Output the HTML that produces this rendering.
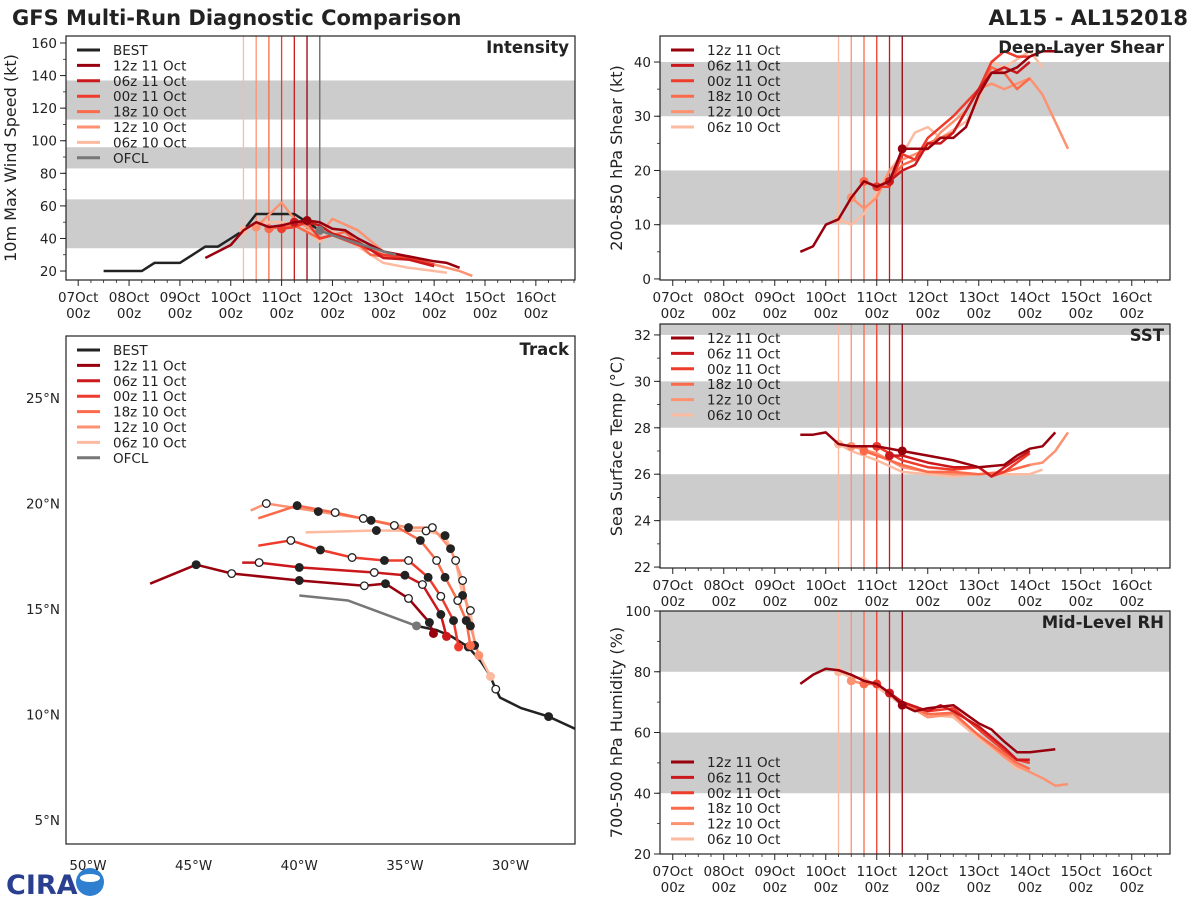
<!DOCTYPE html>
<html><head><meta charset="utf-8">
<style>
html,body{margin:0;padding:0;background:#fff;}
svg text{font-family:"DejaVu Sans","Liberation Sans",sans-serif;fill:#222;}
</style></head>
<body>
<svg id="fig" xmlns="http://www.w3.org/2000/svg" width="1200" height="900" viewBox="0 0 1200 900">
<text x="12" y="25" font-size="21" font-weight="bold">GFS Multi-Run Diagnostic Comparison</text>
<text x="1188" y="25" font-size="21" font-weight="bold" text-anchor="end">AL15 - AL152018</text>
<g>
<text x="6" y="894" font-size="27" font-weight="bold" style="fill:#2a3f8f" font-family="Liberation Serif">CIRA</text>
<circle cx="90" cy="882" r="14" fill="#2f7fd0"/>
<ellipse cx="90" cy="878" rx="10" ry="4" fill="#fff"/>
</g>
<g id="root"></g>
</svg>
<script>
// ---------- data ----------
const runNames = ["12z 11 Oct","06z 11 Oct","00z 11 Oct","18z 10 Oct","12z 10 Oct","06z 10 Oct"];
const runColors = ["#99000d","#cb181d","#ef3b2c","#fb6a4a","#fc9272","#fcbba1"];
const runInit = [4.5,4.25,4.0,3.75,3.5,3.25];
const dayLabels = ["07Oct","08Oct","09Oct","10Oct","11Oct","12Oct","13Oct","14Oct","15Oct","16Oct"];

const intBestT = [0.5,1.25,1.5,2.0,2.25,2.5,2.75,3.0,3.25,3.5,4.0,4.25,4.5,4.75];
const intBestV = [20,20,25,25,30,35,35,40,45,55,55,55,50,45];
const intOfclT = [4.75,5.0,5.5,6.0,6.25];
const intOfclV = [45,42,37,32,30];
const intRunT = [
 [2.5,3.0,3.25,3.5,3.75,4.0,4.25,4.5,4.75,5.0,5.25,5.5,5.75,6.0,6.5,7.0,7.25,7.5],
 [4.25,4.5,4.75,5.0,5.5,6.0,6.5,7.0],
 [4.0,4.25,4.5,4.75,5.0,5.5,6.0,6.5,7.0],
 [3.75,4.25,4.75,5.25,5.75,6.5,7.0],
 [3.5,4.0,4.25,4.75,5.0,5.5,6.0,7.0,7.5,7.75],
 [3.25,3.5,4.0,4.5,4.75,5.0,5.5,6.0,6.5,7.0,7.25]];
const intRunV = [
 [28,36,45,50,47,48,50,51,50,46,45,40,36,32,29,26,25,22],
 [50,50,48,43,38,28,27,23],
 [46,47,50,40,42,36,30,28,24],
 [46,48,40,44,30,27,23],
 [47,62,52,42,52,45,32,24,20,17],
 [45,50,50,45,38,45,35,25,22,20,19]];

const shrRunT = [
 [2.5,2.75,3.0,3.25,3.5,3.75,4.0,4.25,4.5,5.0,5.25,5.5,5.75,6.0,6.25,6.5,6.75,7.0,7.25,7.5],
 [4.25,4.5,4.75,5.0,5.25,5.5,6.0,6.25,6.5,6.75,7.0],
 [4.0,4.25,4.5,4.75,5.0,5.5,6.0,6.25,6.5,6.75,7.0],
 [3.75,4.0,4.25,4.5,4.75,5.0,5.5,6.0,6.25,6.5,6.75,7.0],
 [3.5,3.75,4.0,4.25,4.5,5.0,5.25,5.5,5.75,6.0,6.25,6.5,6.75,7.0,7.25,7.75],
 [3.25,3.5,3.75,4.0,4.25,4.5,4.75,5.0,5.25,5.75,6.0,6.25,6.5,7.0,7.25]];
const shrRunV = [
 [5,6,10,11,15,18,17,18,24,24,26,26,28,34,38,38,39,41,42,42],
 [18,20,21,25,25,27,35,38,39,38,40],
 [17,17,23,22,26,30,35,40,42,41,41],
 [18,17,18,21,22,25,27,35,39,38,35,37],
 [15,13,15,20,22,24,27,29,31,35,36,35,36,37,34,24],
 [11,10,12,16,20,23,27,28,26,29,33,40,39,42,39]];

const sstRunT = [
 [2.5,2.75,3.0,3.25,3.5,4.0,4.5,5.0,5.5,6.0,6.5,6.75,7.0,7.25,7.5],
 [4.25,4.5,5.0,5.5,6.0,6.25,6.5,7.0],
 [4.0,4.5,5.0,5.5,6.0,6.25,6.5,7.0],
 [3.75,4.0,4.5,5.0,5.5,6.0,6.5,7.0],
 [3.5,4.0,4.5,5.0,5.5,6.0,6.5,7.0,7.25,7.5,7.75],
 [3.25,3.5,4.0,4.5,5.0,5.5,6.0,6.5,7.0,7.25]];
const sstRunV = [
 [27.7,27.7,27.8,27.3,27.2,27.2,27.0,26.8,26.6,26.3,26.4,26.8,27.1,27.2,27.8],
 [26.8,26.8,26.5,26.3,26.3,25.9,26.3,27.0],
 [27.2,26.6,26.3,26.2,26.3,25.9,26.1,26.9],
 [27.0,26.8,26.4,26.1,26.1,26.0,26.1,26.4],
 [27.2,26.9,26.3,26.1,26.0,26.0,26.1,26.4,26.5,27.0,27.8],
 [27.3,27.0,26.6,26.1,26.0,25.9,26.0,26.0,26.0,26.2]];

const rhRunT = [
 [2.5,2.75,3.0,3.25,3.5,3.75,4.0,4.25,4.5,4.75,5.0,5.25,5.5,5.75,6.0,6.25,6.5,6.75,7.0,7.5],
 [4.25,4.5,5.0,5.25,5.5,6.0,6.5,6.75,7.0],
 [4.0,4.5,5.0,5.5,6.0,6.5,6.75,7.0],
 [3.75,4.0,4.5,5.0,5.5,6.0,6.5,6.75,7.0],
 [3.5,3.75,4.0,4.5,5.0,5.5,6.0,6.5,6.75,7.0,7.25,7.5,7.75],
 [3.25,3.5,3.75,4.0,4.5,5.0,5.5,6.0,6.5,6.75,7.0]];
const rhRunV = [
 [76,79,81,80.5,79,77,76,73,69,67,68,68.5,69,66,63,61,57,53.5,53.5,54.5],
 [73,70,67,69,67,62,55,51,51],
 [76,70,67,68,61,54,51,50],
 [76,76,70,66,66.5,59,53,50,48],
 [77,76,76,70,65,66,59,52,49,47,45,42.5,43],
 [80,78,78,75,69,66,65,58,52,48,48]];

// track: [lonW, latN]
const trkBestLon = [26.9,28.2,29.5,30.5,30.7,31.0,31.4,32.0,32.8,33.5,34.45];
const trkBestLat = [9.3,9.9,10.3,10.8,11.2,11.9,12.5,13.2,13.7,14.0,14.2];
const trkOfclLon = [34.45,37.7,40.0];
const trkOfclLat = [14.2,15.4,15.64];
const trkRunLon = [
 [33.65,33.84,34.83,35.92,36.92,40.0,43.2,44.88,47.06],
 [33.03,33.3,34.17,35.0,36.45,40.0,41.9,42.7],
 [32.46,32.7,33.3,33.9,34.83,35.97,37.5,39.0,40.4,41.94],
 [31.9,32.1,32.5,33.1,33.5,34.27,35.5,36.6,38.3,40.1,41.94],
 [31.5,31.9,32.27,32.84,33.7,34.83,36.97,39.1,41.56,42.3],
 [30.95,31.7,31.9,32.27,32.6,33.1,34.0,36.35,39.7]];
const trkRunLat = [
 [13.84,14.36,15.5,16.2,16.1,16.35,16.68,17.1,16.2],
 [13.7,14.74,16.16,16.6,16.73,16.97,17.2,17.2],
 [13.2,14.45,15.6,16.5,17.3,17.3,17.44,17.8,18.25,18.0],
 [13.27,14.45,15.4,16.5,17.3,18.25,18.96,19.2,19.57,19.9,19.3],
 [12.8,14.2,16.35,17.86,18.86,18.86,19.29,19.62,20.0,19.67],
 [11.8,13.27,14.93,15.64,17.3,18.48,18.7,18.72,18.63]];
const lonTicks = [50,45,40,35,30];
const latTicks = [25,20,15,10,5];

// ---------- helpers ----------
const NS = "http://www.w3.org/2000/svg";
const root = document.getElementById("root");
function mk(tag, attrs, parent){
  const e = document.createElementNS(NS, tag);
  for (const k in attrs) e.setAttribute(k, attrs[k]);
  (parent||root).appendChild(e);
  return e;
}
function lin(d0,d1,p0,p1){ return v => p0 + (v-d0)/(d1-d0)*(p1-p0); }
function pathD(xs, ys){ return xs.map((v,i)=>(i?"L":"M")+v.toFixed(1)+","+ys[i].toFixed(1)).join(""); }

function timePanel(cfg){
  const g = mk("g", {});
  
  
  const X = lin(cfg.xlim[0], cfg.xlim[1], cfg.x0, cfg.x1);
  const Y = lin(cfg.ylim[0], cfg.ylim[1], cfg.y1, cfg.y0);
  const clipId = cfg.name + "-clip";
  const cp = mk("clipPath", {id: clipId}, g);
  mk("rect", {x: cfg.x0, y: cfg.y0, width: cfg.x1-cfg.x0, height: cfg.y1-cfg.y0}, cp);
  // bands
  cfg.bands.forEach(b => {
    const top = Math.max(cfg.y0, Y(Math.min(b[1], cfg.ylim[1])));
    const bot = Math.min(cfg.y1, Y(b[0]));
    const r = mk("rect", {x: cfg.x0, y: top, width: cfg.x1-cfg.x0, height: bot-top, fill: "#cccccc"}, g);
    
    
  });
  // init lines
  runInit.forEach((t,i) => {
    const l = mk("line", {x1: X(t), x2: X(t), y1: cfg.y0, y2: cfg.y1, stroke: runColors[i], "stroke-width": 1.3}, g);
    
    
  });
  if (cfg.ofclT) {
    const l = mk("line", {x1: X(cfg.ofclT[0]), x2: X(cfg.ofclT[0]), y1: cfg.y0, y2: cfg.y1, stroke: "#777", "stroke-width": 1.5}, g);
    
    
  }
  const cg = mk("g", {"clip-path": "url(#"+clipId+")"}, g);
  if (cfg.bestT) {
    const p = mk("path", {d: pathD(cfg.bestT.map(X), cfg.bestV.map(Y)), stroke: "#222", "stroke-width": 2.5, fill: "none"}, cg);
    
    
  }
  for (let i = runNames.length-1; i >= 0; i--) {
    const p = mk("path", {d: pathD(cfg.runT[i].map(X), cfg.runV[i].map(Y)), stroke: runColors[i], "stroke-width": 2.5, fill: "none", "stroke-linejoin": "round"}, cg);
    
    
    const k = cfg.runT[i].indexOf(runInit[i]);
    if (k >= 0) {
      const c = mk("circle", {cx: X(runInit[i]), cy: Y(cfg.runV[i][k]), r: 4.5, fill: runColors[i]}, cg);
      
      
    }
  }
  if (cfg.ofclT) {
    const p = mk("path", {d: pathD(cfg.ofclT.map(X), cfg.ofclV.map(Y)), stroke: "#777", "stroke-width": 2.5, fill: "none"}, cg);
    
    
    const c = mk("circle", {cx: X(cfg.ofclT[0]), cy: Y(cfg.ofclV[0]), r: 4.5, fill: "#777"}, cg);
    
    
  }
  // frame
  const fr = mk("rect", {x: cfg.x0, y: cfg.y0, width: cfg.x1-cfg.x0, height: cfg.y1-cfg.y0, fill: "none", stroke: "#222", "stroke-width": 1.2}, g);
  
  
  // x ticks
  dayLabels.forEach((lab, d) => {
    const x = X(d);
    mk("line", {x1: x, x2: x, y1: cfg.y1, y2: cfg.y1+6, stroke: "#222", "stroke-width": 1}, g);
    for (let q = 1; q < 4; q++) { const xm = X(d+q*0.25); if (xm < cfg.x1) mk("line", {x1: xm, x2: xm, y1: cfg.y1, y2: cfg.y1+3, stroke: "#222", "stroke-width": 0.8}, g); }
    const t1 = mk("text", {x: x, y: cfg.y1+22, "font-size": 13.5, "text-anchor": "middle"}, g);
    t1.textContent = lab;
    
    
    const t2 = mk("text", {x: x, y: cfg.y1+38, "font-size": 13.5, "text-anchor": "middle"}, g);
    t2.textContent = "00z";
    
    
  });
  // y ticks
  for (let v = cfg.yt[0]; v <= cfg.yt[1]+1e-6; v += cfg.yt[2]) {
    const y = Y(v);
    mk("line", {x1: cfg.x0-6, x2: cfg.x0, y1: y, y2: y, stroke: "#222", "stroke-width": 1}, g);
    const t = mk("text", {x: cfg.x0-9, y: y+5, "font-size": 13.5, "text-anchor": "end"}, g);
    t.textContent = v;
    
    
  }
  for (let v = cfg.yt[0] - cfg.yt[3]*Math.floor((cfg.yt[0]-cfg.ylim[0])/cfg.yt[3]); v <= cfg.ylim[1]; v += cfg.yt[3]) {
    const y = Y(v);
    if (y >= cfg.y0 && y <= cfg.y1) mk("line", {x1: cfg.x0-3, x2: cfg.x0, y1: y, y2: y, stroke: "#222", "stroke-width": 0.8}, g);
  }
  const yl = mk("text", {x: 0, y: 0, "font-size": 16, "text-anchor": "middle", transform: "translate("+cfg.ylabX+","+((cfg.y0+cfg.y1)/2)+") rotate(-90)"}, g);
  yl.textContent = cfg.ylabel;
  
  
  const ti = mk("text", {x: cfg.x1-6, y: cfg.y0+17, "font-size": 16.5, "font-weight": "bold", "text-anchor": "end"}, g);
  ti.textContent = cfg.title;
  
  
  legend(g, cfg.x0+11, cfg.legY, cfg.bestT != null);
}

function legend(g, x, y, withBest){
  const lg = mk("g", {}, g);
  
  
  const items = [];
  if (withBest) items.push(["BEST", "#222"]);
  runNames.forEach((n,i) => items.push([n, runColors[i]]));
  if (withBest) items.push(["OFCL", "#777"]);
  items.forEach((it, k) => {
    const yy = y + k*15.4;
    const l = mk("line", {x1: x, x2: x+23, y1: yy, y2: yy, stroke: it[1], "stroke-width": 3}, lg);
    
    
    const t = mk("text", {x: x+36, y: yy+5, "font-size": 13.5}, lg);
    t.textContent = it[0];
    
    
  });
}

timePanel({name:"intensity-panel", x0:66, x1:575, y0:36, y1:280, xlim:[-0.24,9.77], ylim:[14.5,164.3],
  bands:[[34,64],[83,96],[113,137]], yt:[20,160,20,10], ylabel:"10m Max Wind Speed (kt)", ylabX:16, title:"Intensity",
  bestT:intBestT, bestV:intBestV, ofclT:intOfclT, ofclV:intOfclV, runT:intRunT, runV:intRunV, legY:50});
timePanel({name:"shear-panel", x0:660, x1:1170, y0:36, y1:280, xlim:[-0.25,9.75], ylim:[-0.2,44.8],
  bands:[[10,20],[30,40]], yt:[0,40,10,5], ylabel:"200-850 hPa Shear (kt)", ylabX:622, title:"Deep-Layer Shear",
  runT:shrRunT, runV:shrRunV, legY:50});
timePanel({name:"sst-panel", x0:660, x1:1170, y0:324, y1:568, xlim:[-0.25,9.75], ylim:[21.96,32.47],
  bands:[[24,26],[28,30],[32,40]], yt:[22,32,2,1], ylabel:"Sea Surface Temp (°C)", ylabX:622, title:"SST",
  runT:sstRunT, runV:sstRunV, legY:338});
timePanel({name:"rh-panel", x0:660, x1:1170, y0:611, y1:854, xlim:[-0.25,9.75], ylim:[20,100],
  bands:[[40,60],[80,100]], yt:[20,100,20,10], ylabel:"700-500 hPa Humidity (%)", ylabX:622, title:"Mid-Level RH",
  runT:rhRunT, runV:rhRunV, legY:762});

// ---------- track panel ----------
(function(){
  const x0=66,x1=575,y0=336,y1=844;
  const g = mk("g", {});
  
  
  const X = lin(51.04, 26.95, x0, x1);
  const Y = lin(3.86, 27.94, y1, y0);
  const cp = mk("clipPath", {id: "trk-clip"}, g);
  mk("rect", {x: x0, y: y0, width: x1-x0, height: y1-y0}, cp);
  const cg = mk("g", {"clip-path": "url(#trk-clip)"}, g);
  const b = mk("path", {d: pathD(trkBestLon.map(X), trkBestLat.map(Y)), stroke: "#222", "stroke-width": 2.5, fill: "none"}, cg);
  
  
  [1,4,7].forEach((k,j) => {
    const c = mk("circle", {cx: X(trkBestLon[k]), cy: Y(trkBestLat[k]), r: 3.8, fill: j%2? "#fff":"#222", stroke: "#222", "stroke-width": 1.3}, cg);
    
    
  });
  const o = mk("path", {d: pathD(trkOfclLon.map(X), trkOfclLat.map(Y)), stroke: "#777", "stroke-width": 2.5, fill: "none"}, cg);
  
  
  const oc = mk("circle", {cx: X(trkOfclLon[0]), cy: Y(trkOfclLat[0]), r: 4.5, fill: "#777"}, cg);
  
  
  for (let i = runNames.length-1; i >= 0; i--) {
    const xs = trkRunLon[i].map(X), ys = trkRunLat[i].map(Y);
    const p = mk("path", {d: pathD(xs, ys), stroke: runColors[i], "stroke-width": 2.5, fill: "none", "stroke-linejoin": "round"}, cg);
    
    
  }
  for (let i = runNames.length-1; i >= 0; i--) {
    const xs = trkRunLon[i].map(X), ys = trkRunLat[i].map(Y);
    for (let k = 1; k < xs.length-1; k++) {
      const c = mk("circle", {cx: xs[k], cy: ys[k], r: 3.8, fill: k%2? "#222":"#fff", stroke: "#222", "stroke-width": 1.3}, cg);
      
      
    }
    const c0 = mk("circle", {cx: xs[0], cy: ys[0], r: 4.5, fill: runColors[i]}, cg);
    
    
  }
  const fr = mk("rect", {x: x0, y: y0, width: x1-x0, height: y1-y0, fill: "none", stroke: "#222", "stroke-width": 1.2}, g);
  
  
  lonTicks.forEach(v => {
    const t = mk("text", {x: X(v), y: y1+26, "font-size": 13.5, "text-anchor": "middle"}, g);
    t.textContent = v + "°W";
    
    
  });
  latTicks.forEach(v => {
    const t = mk("text", {x: x0-6, y: Y(v)+5, "font-size": 13.5, "text-anchor": "end"}, g);
    t.textContent = v + "°N";
    
    
  });
  const ti = mk("text", {x: x1-6, y: y0+19, "font-size": 16.5, "font-weight": "bold", "text-anchor": "end"}, g);
  ti.textContent = "Track";
  
  
  legend(g, x0+11, 350, true);
})();
</script>
</body></html>
